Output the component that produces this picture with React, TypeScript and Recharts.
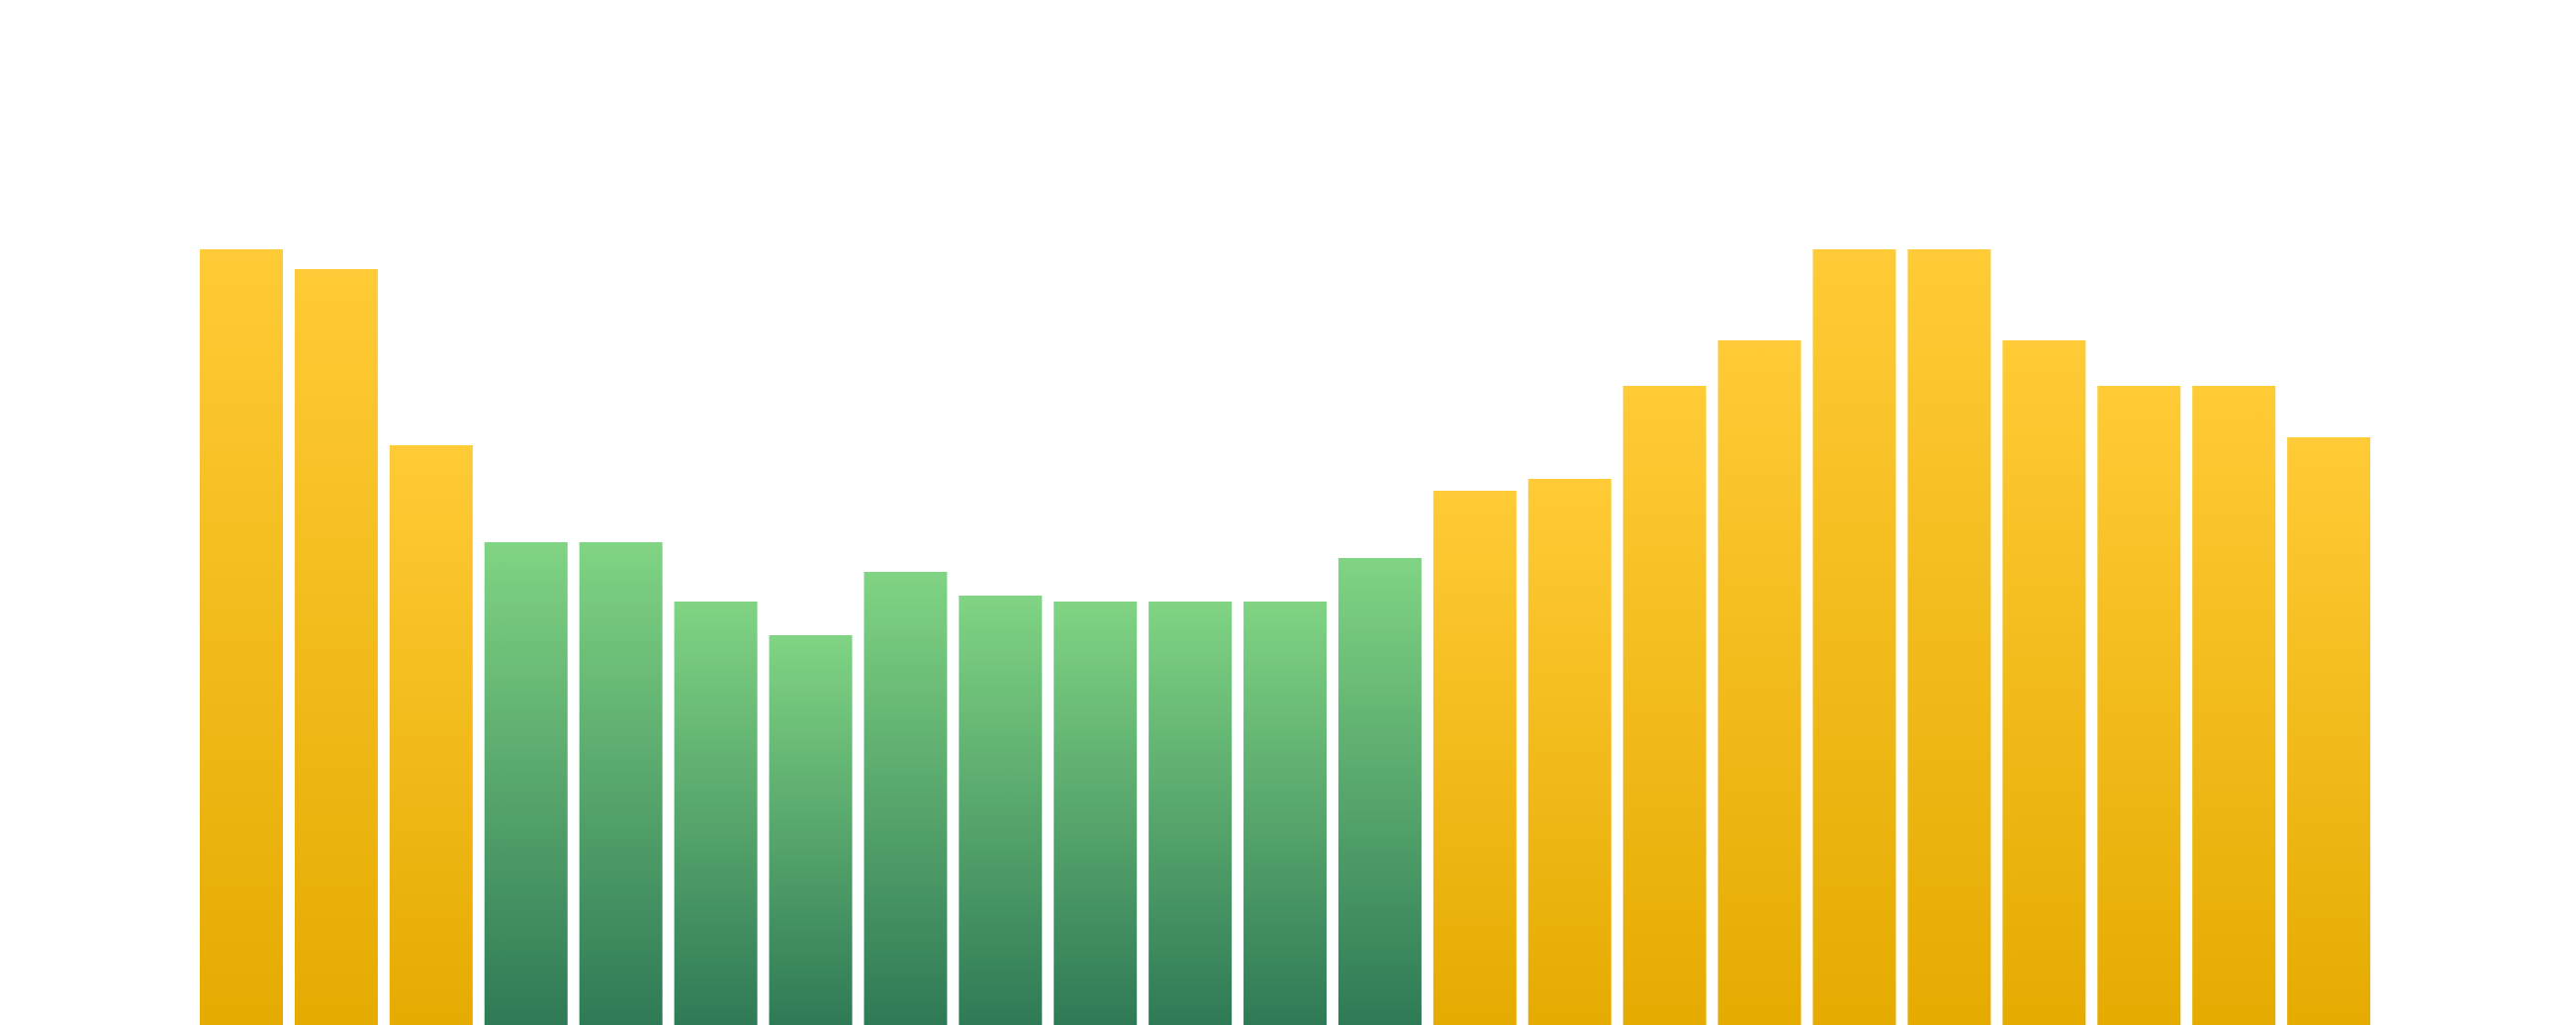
import React from 'react';
import { BarChart, Bar, XAxis, YAxis, Cell } from 'recharts';

// hourly values (scale 0-100)
const hours = [
  '00', '01', '02', '03', '04', '05', '06', '07', '08', '09', '10', '11',
  '12', '13', '14', '15', '16', '17', '18', '19', '20', '21', '22',
];
const values = [
  78.4, 76.4, 58.6, 48.8, 48.8, 42.8, 39.4, 45.8, 43.4, 42.8, 42.8, 42.8,
  47.2, 54.0, 55.2, 64.6, 69.2, 78.4, 78.4, 69.2, 64.6, 64.6, 59.4,
];
// bars under this value are drawn green, the rest yellow
const lowThreshold = 50;

const data = hours.map((hour, i) => ({ hour, value: values[i] }));

export default function App() {
  return (
    <div style={{ width: 2588, height: 1028 }}>
      <BarChart
        width={2588}
        height={1028}
        data={data}
        margin={{ top: 28, right: 194, left: 188, bottom: 0 }}
        barCategoryGap={6}
      >
        <defs>
          <linearGradient id="yellowGrad" x1="0" y1="0" x2="0" y2="1">
            <stop offset="0%" stopColor="#FFCB36" />
            <stop offset="100%" stopColor="#E5AB01" />
          </linearGradient>
          <linearGradient id="greenGrad" x1="0" y1="0" x2="0" y2="1">
            <stop offset="0%" stopColor="#80D483" />
            <stop offset="100%" stopColor="#2E7A56" />
          </linearGradient>
        </defs>
        <XAxis dataKey="hour" hide />
        <YAxis domain={[0, 100]} hide />
        <Bar dataKey="value" isAnimationActive={false}>
          {data.map((d) => (
            <Cell
              key={d.hour}
              fill={d.value < lowThreshold ? 'url(#greenGrad)' : 'url(#yellowGrad)'}
            />
          ))}
        </Bar>
      </BarChart>
    </div>
  );
}
